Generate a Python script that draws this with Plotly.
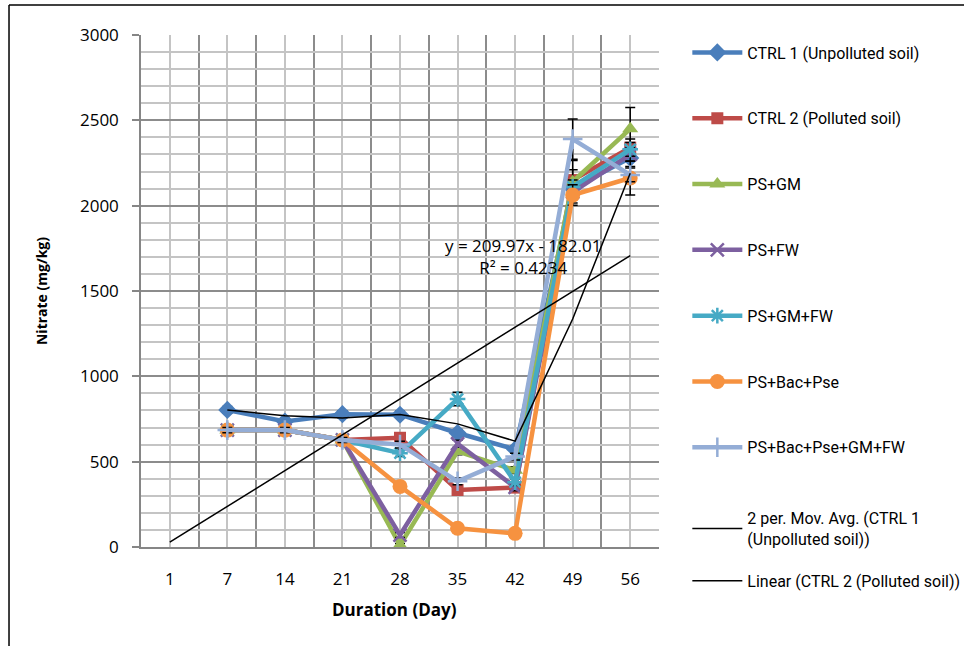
import plotly.graph_objects as go
import pandas as pd

# Sampling days (category axis)
days = ["1", "7", "14", "21", "28", "35", "42", "49", "56"]

# Nitrate (mg/kg) per treatment; day 1 has no measurement
ctrl1 = [None, 803, 735, 778, 775, 668, 572, 2100, 2280]
ctrl2 = [None, 685, 685, 627, 640, 334, 348, 2150, 2340]
ps_gm = [None, 685, 685, 627, 10, 560, 450, 2140, 2450]
ps_fw = [None, 685, 685, 627, 70, 605, 350, 2080, 2300]
ps_gm_fw = [None, 685, 685, 627, 550, 867, 380, 2110, 2330]
ps_bac_pse = [None, 685, 685, 627, 355, 110, 80, 2062, 2162]
ps_bac_pse_gm_fw = [None, 685, 685, 627, 600, 385, 530, 2390, 2180]

# Standard errors
err_ctrl1 = [None, 20, 20, 20, 20, 20, 20, 50, 50]
err_ctrl2 = [None, 15, 15, 15, 20, 20, 20, 60, 50]
err_ps_gm = [None, 15, 15, 15, 10, 20, 20, 125, 125]
err_ps_fw = [None, 15, 15, 15, 15, 20, 20, 40, 40]
err_ps_gm_fw = [None, 15, 15, 15, 20, 40, 20, 40, 40]
err_ps_bac_pse = [None, 15, 15, 15, 20, 15, 15, 60, 100]
err_ps_bac_pse_gm_fw = [None, 15, 15, 15, 20, 20, 20, 118, 40]

# Linear trend fitted to CTRL 2 (x = 1..9)
trend_slope = 209.97
trend_intercept = -182.01
trend_r2 = 0.4234

series_names = [
    "CTRL 1 (Unpolluted soil)",
    "CTRL 2 (Polluted soil)",
    "PS+GM",
    "PS+FW",
    "PS+GM+FW",
    "PS+Bac+Pse",
    "PS+Bac+Pse+GM+FW",
]
series_values = [ctrl1, ctrl2, ps_gm, ps_fw, ps_gm_fw, ps_bac_pse, ps_bac_pse_gm_fw]
series_errors = [err_ctrl1, err_ctrl2, err_ps_gm, err_ps_fw, err_ps_gm_fw,
                 err_ps_bac_pse, err_ps_bac_pse_gm_fw]
colors = ["#4A7EBB", "#BE4B48", "#98B954", "#7D60A0", "#46AAC5", "#F69240", "#94ADD6"]
symbols = ["diamond", "square", "triangle-up", "x-thin-open", "asterisk-open",
           "circle", "cross-thin-open"]
sizes = [14, 12, 14, 13, 13, 15, 14]

x = list(range(len(days)))

fig = go.Figure()

for i, (name, vals, errs) in enumerate(zip(series_names, series_values, series_errors)):
    open_sym = symbols[i].endswith("open")
    fig.add_trace(go.Scatter(
        x=x, y=vals, name=name, mode="lines+markers",
        legendgroup=f"g{i}",
        line=dict(color=colors[i], width=4.5),
        marker=dict(symbol=symbols[i], size=sizes[i], color=colors[i],
                    line=dict(color=colors[i], width=2.5 if open_sym else 0)),
        error_y=dict(type="data", array=errs, visible=True,
                     color="black", thickness=1.5, width=5),
    ))

# 2-period moving average of CTRL 1
ma = pd.Series(ctrl1, dtype=float).rolling(2, min_periods=1).mean()
ma_vals = [None if pd.isna(v) else float(v) for v in ma]
fig.add_trace(go.Scatter(
    x=x, y=ma_vals, mode="lines", legend="legend2",
    name="2 per. Mov. Avg. (CTRL 1<br>(Unpolluted soil))",
    line=dict(color="black", width=1.5),
))

# Linear trendline of CTRL 2
trend_vals = [trend_slope * (i + 1) + trend_intercept for i in x]
fig.add_trace(go.Scatter(
    x=x, y=trend_vals, mode="lines", legend="legend3",
    name="Linear (CTRL 2 (Polluted soil))",
    line=dict(color="black", width=1.5),
))

tick_font = dict(family="Open Sans, Arial, sans-serif", size=17, color="black")
legend_font = dict(family="Roboto, Arial, sans-serif", size=16, color="black")
legend_common = dict(xref="container", yref="container", x=0.713, xanchor="left",
                     yanchor="top", font=legend_font, itemwidth=50, maxheight=640,
                     bgcolor="rgba(0,0,0,0)")

fig.update_layout(
    width=964, height=646,
    margin=dict(l=141, r=305, t=35, b=99),
    paper_bgcolor="white", plot_bgcolor="white",
    showlegend=True,
    legend=dict(y=0.945, traceorder="grouped", tracegroupgap=42, **legend_common),
    legend2=dict(y=0.224, **legend_common),
    legend3=dict(y=0.127, **legend_common),
    xaxis=dict(
        range=[-0.5, len(days) - 0.5],
        tickmode="array", tickvals=x, ticktext=days,
        showgrid=True, gridcolor="#C4C4C4", gridwidth=1.5,
        minor=dict(tickmode="array", tickvals=[i - 0.5 for i in range(len(days) + 1)],
                   showgrid=True, gridcolor="#8C8C8C", gridwidth=1.5, ticks=""),
        showline=True, linecolor="#868686", linewidth=2,
        ticks="", zeroline=False, tickfont=tick_font, ticklabelstandoff=16,
    ),
    yaxis=dict(
        range=[0, 3000], tickmode="linear", tick0=0, dtick=500,
        showgrid=True, gridcolor="#8C8C8C", gridwidth=1.5,
        minor=dict(dtick=100, showgrid=True, gridcolor="#C4C4C4", gridwidth=1.5),
        showline=True, linecolor="#868686", linewidth=1.5,
        ticks="outside", ticklen=7, tickcolor="#868686", tickwidth=1.5,
        zeroline=False, tickfont=tick_font, ticklabelstandoff=10,
    ),
    annotations=[
        dict(text="<b>Duration (Day)</b>", xref="paper", yref="paper",
             x=0.49, y=-0.123, xanchor="center", yanchor="middle", showarrow=False,
             font=dict(family="Open Sans, Arial, sans-serif", size=17, color="black")),
        dict(text="<b>Nitrate (mg/kg)</b>", xref="paper", yref="paper",
             x=-0.193, y=0.5, xanchor="center", yanchor="middle", showarrow=False,
             textangle=-90,
             font=dict(family="Open Sans, Arial, sans-serif", size=14, color="black")),
        dict(text=f"y = {trend_slope:.2f}x - {abs(trend_intercept):.2f}<br>R² = {trend_r2:.4f}",
             xref="x", yref="y", x=6.145, y=1700, xanchor="center", yanchor="middle",
             showarrow=False, align="center",
             font=dict(family="Open Sans, Arial, sans-serif", size=17, color="black")),
    ],
    shapes=[
        dict(type="line", xref="paper", yref="paper", x0=-0.2548, x1=-0.2548,
             y0=-0.3, y1=1.0586, line=dict(color="black", width=1.5)),
        dict(type="line", xref="paper", yref="paper", x0=-0.2548, x1=1.7,
             y0=1.0586, y1=1.0586, line=dict(color="black", width=1.5)),
    ],
)

fig.write_html("out.html")
